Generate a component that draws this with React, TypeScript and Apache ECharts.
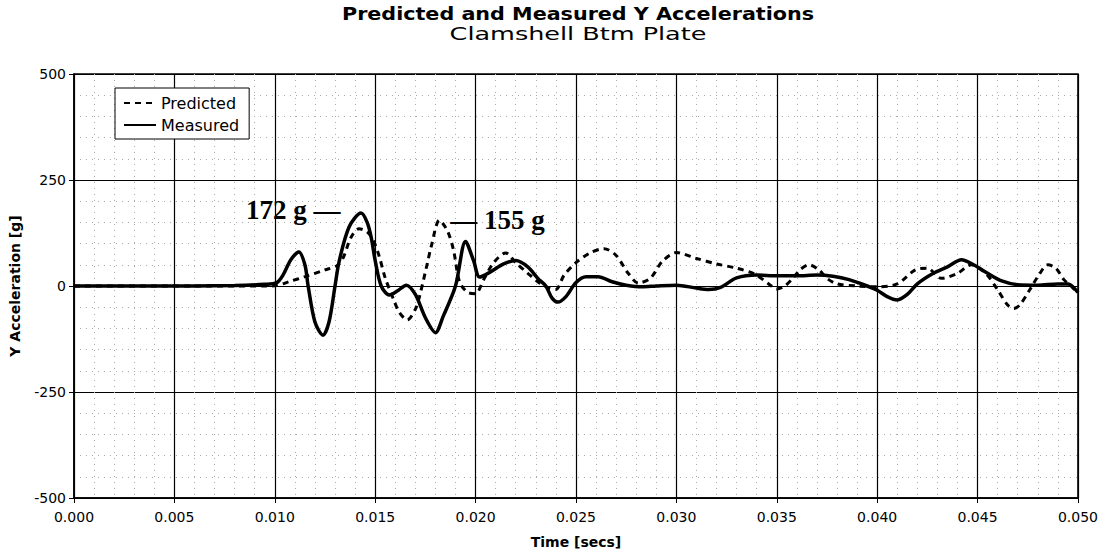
import React, { useEffect, useRef } from "react";
import * as echarts from "echarts";

const measuredTime = [0, 0.004, 0.008, 0.0095, 0.0101, 0.0104, 0.0108, 0.0112, 0.0115, 0.01166, 0.012, 0.0124, 0.0127, 0.013, 0.0132, 0.0137, 0.0143, 0.0146, 0.0148, 0.015, 0.0153, 0.0157, 0.0161, 0.01655, 0.017, 0.0175, 0.018, 0.0184, 0.019, 0.0195, 0.0199, 0.0202, 0.0207, 0.0214, 0.022, 0.0226, 0.0231, 0.0235, 0.0238, 0.0241, 0.0245, 0.025, 0.0255, 0.0261, 0.0268, 0.0275, 0.0283, 0.029, 0.03, 0.031, 0.0316, 0.0322, 0.033, 0.034, 0.035, 0.036, 0.037, 0.0378, 0.0386, 0.0395, 0.04, 0.0405, 0.041, 0.0415, 0.042, 0.0428, 0.0435, 0.0442, 0.0448, 0.0455, 0.0462, 0.047, 0.048, 0.049, 0.0495, 0.05];
const measuredValue = [0, 0, 1, 4, 8, 25, 62, 80, 50, 0, -85, -116, -85, 0, 57, 139, 172, 150, 115, 60, 0, -21, -12, 2, -20, -75, -110, -70, 0, 105, 60, 21, 32, 52, 60, 45, 18, 0, -28, -38, -25, 8, 22, 22, 10, 2, -2, 0, 2, -5, -8, -3, 19, 26, 24, 24, 26, 23, 15, 0, -10, -25, -33, -20, 5, 30, 45, 62, 50, 30, 12, 3, 2, 5, 5, -15];

const predictedTime = [0, 0.0095, 0.0101, 0.0107, 0.0115, 0.0125, 0.0131, 0.0134, 0.0138, 0.0142, 0.0146, 0.0149, 0.0152, 0.0155, 0.0159, 0.0162, 0.0166, 0.017, 0.0172, 0.0176, 0.0178, 0.0182, 0.0186, 0.0189, 0.0192, 0.0196, 0.02, 0.0204, 0.0209, 0.0215, 0.022, 0.0226, 0.0231, 0.0236, 0.024, 0.0244, 0.025, 0.0257, 0.0264, 0.027, 0.0276, 0.0281, 0.0287, 0.0293, 0.03, 0.031, 0.032, 0.033, 0.0339, 0.0346, 0.035, 0.0354, 0.0358, 0.0362, 0.0366, 0.0371, 0.0375, 0.038, 0.039, 0.04, 0.041, 0.0419, 0.0425, 0.0432, 0.044, 0.0447, 0.0454, 0.046, 0.0465, 0.0468, 0.0471, 0.0476, 0.048, 0.0485, 0.0489, 0.0493, 0.0497, 0.05];
const predictedValue = [0, 0, 1, 10, 22, 38, 48, 66, 115, 135, 128, 108, 70, 19, -30, -62, -80, -55, -26, 54, 95, 155, 130, 85, 10, -15, -18, 15, 55, 78, 55, 30, 10, -4, -8, 25, 55, 78, 88, 72, 30, 7, 18, 58, 79, 65, 52, 42, 28, 5, -7, 0, 18, 40, 50, 38, 18, 5, 0, -2, 5, 38, 42, 18, 30, 50, 30, -9, -45, -53, -45, -9, 22, 50, 42, 15, -2, -17];

const xMin = 0;
const xMax = 0.05;
const xStep = 0.005;
const yMin = -500;
const yMax = 500;
const yStep = 250;

const titleText = "Predicted and Measured Y Accelerations";
const subtitleText = "Clamshell Btm Plate";
const xName = "Time [secs]";
const yName = "Y Acceleration [g]";
const seriesNames = ["Predicted", "Measured"];

const peakMeasured = { t: 0.0143, v: 172, label: "172 g —" };
const peakPredicted = { t: 0.0182, v: 155, label: "— 155 g" };

export default function App() {
  const ref = useRef<HTMLDivElement>(null);
  useEffect(() => {
    if (!ref.current) return;
    const chart = echarts.init(ref.current, undefined, { renderer: "svg" });
    const zip = (a: number[], b: number[]) => a.map((t, i) => [t, b[i]]);
    const sans = "DejaVu Sans";
    const annoLabel = (text: string, offset: number[]) => ({
      show: true,
      formatter: text,
      position: "inside",
      offset,
      fontFamily: "Liberation Serif",
      fontWeight: "bold",
      fontSize: 27,
      color: "#000",
    });
    chart.setOption({
      animation: false,
      backgroundColor: "#fff",
      graphic: [
        {
          type: "text",
          x: 578,
          y: 14,
          scaleX: 1.15,
          style: {
            text: titleText,
            fontFamily: sans,
            fontWeight: "bold",
            fontSize: 18,
            fill: "#000",
            align: "center",
            verticalAlign: "middle",
            textAlign: "center",
            textVerticalAlign: "middle",
          },
        },
        {
          type: "text",
          x: 578,
          y: 34,
          scaleX: 1.5,
          style: {
            text: subtitleText,
            fontFamily: sans,
            fontSize: 17,
            fill: "#000",
            align: "center",
            verticalAlign: "middle",
            textAlign: "center",
            textVerticalAlign: "middle",
          },
        },
      ],
      grid: {
        left: 72,
        right: 17,
        top: 74,
        bottom: 59,
        show: true,
        borderColor: "#000",
        borderWidth: 1.5,
        backgroundColor: "#fff",
      },
      legend: {
        left: 115,
        top: 88,
        orient: "vertical",
        itemWidth: 32,
        itemHeight: 12,
        itemGap: 6,
        padding: [7, 10, 6, 8],
        borderColor: "#000",
        borderWidth: 1,
        backgroundColor: "#fff",
        itemStyle: { opacity: 0 },
        textStyle: { fontFamily: sans, fontSize: 16, color: "#000" },
        data: seriesNames,
      },
      xAxis: {
        type: "value",
        min: xMin,
        max: xMax,
        interval: xStep,
        name: xName,
        nameLocation: "middle",
        nameGap: 37,
        nameTextStyle: { fontFamily: sans, fontWeight: "bold", fontSize: 14, color: "#000" },
        axisLine: { onZero: false, lineStyle: { color: "#000", width: 1.5 } },
        axisTick: { show: true, length: 5, lineStyle: { color: "#000" } },
        axisLabel: {
          fontFamily: sans,
          fontSize: 14,
          color: "#000",
          margin: 12,
          formatter: (v: number) => v.toFixed(3),
        },
        splitLine: { show: true, lineStyle: { color: "#000", width: 1.2 } },
        minorTick: { show: false, splitNumber: 5 },
        minorSplitLine: { show: true, lineStyle: { color: "#aaa", width: 1, type: [1, 5] } },
      },
      yAxis: {
        type: "value",
        min: yMin,
        max: yMax,
        interval: yStep,
        name: yName,
        nameLocation: "middle",
        nameGap: 52,
        nameTextStyle: { fontFamily: sans, fontWeight: "bold", fontSize: 14, color: "#000" },
        axisLine: { lineStyle: { color: "#000", width: 1.5 } },
        axisTick: { show: true, length: 5, lineStyle: { color: "#000" } },
        axisLabel: { fontFamily: sans, fontSize: 14, color: "#000", margin: 8 },
        splitLine: { show: true, lineStyle: { color: "#000", width: 1.2 } },
        minorTick: { show: false, splitNumber: 5 },
        minorSplitLine: { show: true, lineStyle: { color: "#aaa", width: 1, type: [1, 5] } },
      },
      series: [
        {
          name: seriesNames[0],
          type: "line",
          data: zip(predictedTime, predictedValue),
          symbol: "none",
          smooth: 0.3,
          lineStyle: { color: "#000", width: 3, type: [6, 5] },
          itemStyle: { color: "#000" },
          z: 3,
          markPoint: {
            symbol: "circle",
            symbolSize: 0,
            data: [{ coord: [peakPredicted.t, peakPredicted.v], value: peakPredicted.label }],
            label: annoLabel(peakPredicted.label, [58, 0]),
          },
        },
        {
          name: seriesNames[1],
          type: "line",
          data: zip(measuredTime, measuredValue),
          symbol: "none",
          smooth: 0.3,
          lineStyle: { color: "#000", width: 3.5 },
          itemStyle: { color: "#000" },
          z: 4,
          markPoint: {
            symbol: "circle",
            symbolSize: 0,
            data: [{ coord: [peakMeasured.t, peakMeasured.v], value: peakMeasured.label }],
            label: annoLabel(peakMeasured.label, [-68, -3]),
          },
        },
      ],
    });
    return () => chart.dispose();
  }, []);
  return <div ref={ref} style={{ width: 1101, height: 557, position: "absolute", left: 0, top: 0 }} />;
}
